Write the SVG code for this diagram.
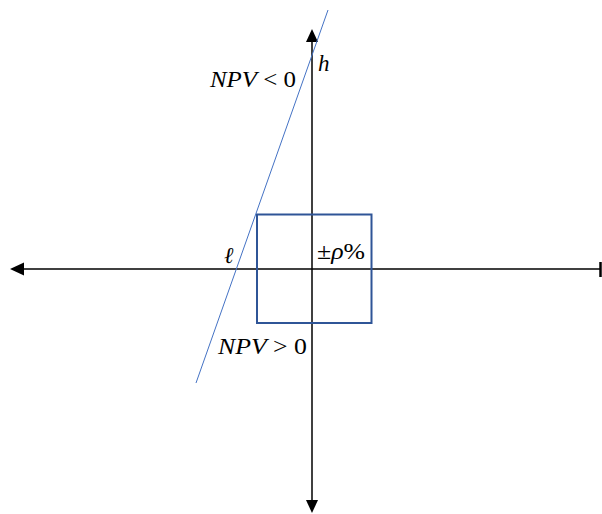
<svg xmlns="http://www.w3.org/2000/svg" width="602" height="514" viewBox="0 0 602 514">
<defs>
<style>
.ax{stroke:#000;stroke-width:1.5;fill:none}
.m{font-family:"Liberation Serif","DejaVu Serif",serif;font-size:23px;fill:#000}
.i{font-style:italic}
</style>
</defs>
<rect width="602" height="514" fill="#fff"/>
<g id="connectors">
<line class="ax" x1="24" y1="269" x2="600" y2="269"/>
<polygon points="10,269 24,262.5 24,275.5" fill="#000"/>
<line x1="600.5" y1="262" x2="600.5" y2="277" stroke="#000" stroke-width="2.5"/>
<line class="ax" x1="312" y1="42" x2="312" y2="500"/>
<polygon points="312,29 306,42 318,42" fill="#000"/>
<polygon points="312,513 306,500 318,500" fill="#000"/>
<line id="line-l" x1="196" y1="383" x2="328" y2="10" stroke="#4472C4" stroke-width="1"/>
</g>
<g id="box">
<rect x="257" y="214.5" width="114.5" height="108.5" fill="none" stroke="#2F5597" stroke-width="2"/>
</g>
<g id="labels">
<text class="m" x="210" y="87" textLength="86" lengthAdjust="spacingAndGlyphs"><tspan class="i">NPV</tspan> &lt; 0</text>
<text class="m i" x="318" y="71" font-size="24">h</text>
<text class="m i" x="224" y="263" font-size="24">ℓ</text>
<text class="m" x="317" y="259" textLength="48" lengthAdjust="spacingAndGlyphs">±<tspan class="i">ρ</tspan>%</text>
<text class="m" x="218" y="354" textLength="89" lengthAdjust="spacingAndGlyphs"><tspan class="i">NPV</tspan> &gt; 0</text>
</g>
</svg>
